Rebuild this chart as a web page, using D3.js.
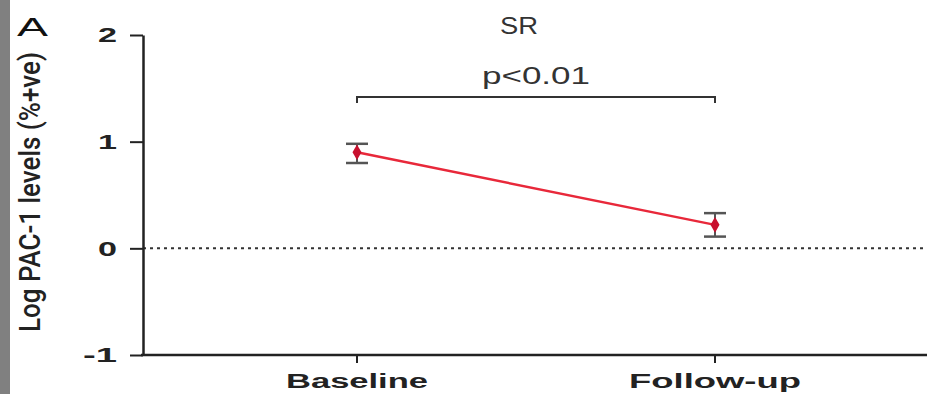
<!DOCTYPE html>
<html>
<head>
	<meta charset='utf-8' />
	<script src="https://d3js.org/d3.v7.min.js"></script>
	<style>
		body { margin: 0; background: white; }
		svg { display: block; }
	</style>
</head>
<body>
	<svg id="chart" width="927" height="394"></svg>
	<script>
		// data
		var groups = ["Baseline", "Follow-up"];
		var groupWidths = [142, 172];
		var means = [0.90, 0.22];
		var upper = [0.98, 0.33];
		var lower = [0.80, 0.11];
		var yTicks = [-1, 0, 1, 2];

		var svg = d3.select("#chart"),
			width = +svg.attr("width"),
			height = +svg.attr("height");

		// grey strip on the left edge
		svg.append("rect").attr("x", 0).attr("y", 0).attr("width", 10).attr("height", height).attr("fill", "#808080");

		var y = d3.scaleLinear().domain([-1, 2]).range([355, 35]);
		var x = d3.scalePoint().domain(groups).range([357, 715]);

		// dotted zero line
		svg.append("line")
			.attr("x1", 143).attr("x2", width)
			.attr("y1", y(0)).attr("y2", y(0))
			.attr("stroke", "#333").attr("stroke-width", 2)
			.attr("stroke-dasharray", "3,4");

		var yAxis = svg.append("g")
			.attr("transform", "translate(143,0)")
			.call(d3.axisLeft(y).tickValues(yTicks).tickSize(13).tickSizeOuter(0).tickFormat(d3.format("d")))
		yAxis.select(".domain").attr("stroke", "#222").attr("stroke-width", 2.5)
		yAxis.selectAll(".tick line").attr("stroke", "#222").attr("stroke-width", 2)
		yAxis.selectAll(".tick text")
			.attr("x", -26)
			.attr("fill", "#222")
			.style("font-family", "Liberation Sans, Arial, sans-serif")
			.style("font-weight", "bold")
			.style("font-size", "21px")
			.attr("textLength", d => d < 0 ? 34 : 19)
			.attr("lengthAdjust", "spacingAndGlyphs")
			.text(d => d < 0 ? "-" + Math.abs(d) : d)

		var xAxis = svg.append("g")
			.attr("transform", `translate(0,${y(-1)})`)
		xAxis.append("line")
			.attr("x1", 141).attr("x2", width)
			.attr("stroke", "#222").attr("stroke-width", 2.5)
		xAxis.selectAll(".xt").data(groups).enter().append("line")
			.attr("class", "xt")
			.attr("x1", d => x(d)).attr("x2", d => x(d))
			.attr("y1", 0).attr("y2", 8)
			.attr("stroke", "#222").attr("stroke-width", 2)
		xAxis.selectAll(".xl").data(groups).enter().append("text")
			.attr("class", "xl")
			.attr("x", d => x(d))
			.attr("y", 33)
			.attr("text-anchor", "middle")
			.attr("fill", "#222")
			.style("font-family", "Liberation Sans, Arial, sans-serif")
			.style("font-weight", "bold")
			.style("font-size", "20px")
			.attr("textLength", (d, i) => groupWidths[i])
			.attr("lengthAdjust", "spacingAndGlyphs")
			.text(d => d)

		// connecting line
		var line = d3.line().x((d, i) => x(groups[i])).y(d => y(d));
		svg.append("path")
			.datum(means)
			.attr("d", line)
			.attr("fill", "none")
			.attr("stroke", "#e8283a")
			.attr("stroke-width", 2.5)

		// error bars
		var err = svg.selectAll(".err").data(groups).enter().append("g").attr("class", "err")
		err.append("line")
			.attr("x1", d => x(d)).attr("x2", d => x(d))
			.attr("y1", (d, i) => y(upper[i])).attr("y2", (d, i) => y(lower[i]))
			.attr("stroke", "#555").attr("stroke-width", 2)
		err.append("line")
			.attr("x1", d => x(d) - 11).attr("x2", d => x(d) + 11)
			.attr("y1", (d, i) => y(upper[i])).attr("y2", (d, i) => y(upper[i]))
			.attr("stroke", "#555").attr("stroke-width", 2.5)
		err.append("line")
			.attr("x1", d => x(d) - 11).attr("x2", d => x(d) + 11)
			.attr("y1", (d, i) => y(lower[i])).attr("y2", (d, i) => y(lower[i]))
			.attr("stroke", "#555").attr("stroke-width", 2.5)

		// markers
		svg.selectAll(".pt").data(means).enter().append("path")
			.attr("class", "pt")
			.attr("transform", (d, i) => `translate(${x(groups[i])},${y(d)})`)
			.attr("d", d3.symbol().type(d3.symbolDiamond).size(70))
			.attr("fill", "#c8102e")

		// significance bracket
		var by = 97;
		svg.append("path")
			.attr("d", `M${x(groups[0])},${by + 6}V${by}H${x(groups[1])}V${by + 6}`)
			.attr("fill", "none")
			.attr("stroke", "#333")
			.attr("stroke-width", 2)
		svg.append("text")
			.attr("x", 536)
			.attr("y", 84)
			.attr("text-anchor", "middle")
			.attr("fill", "#333")
			.style("font-family", "Liberation Sans, Arial, sans-serif")
			.style("font-size", "24px")
			.attr("textLength", 108)
			.attr("lengthAdjust", "spacingAndGlyphs")
			.text("p<0.01")

		// title
		svg.append("text")
			.attr("x", 519).attr("y", 34)
			.attr("text-anchor", "middle")
			.attr("fill", "#333")
			.style("font-family", "Liberation Sans, Arial, sans-serif")
			.style("font-size", "23px")
			.attr("textLength", 38)
			.attr("lengthAdjust", "spacingAndGlyphs")
			.text("SR")

		// panel letter
		svg.append("text")
			.attr("x", 17).attr("y", 36)
			.attr("fill", "#111")
			.style("font-family", "Liberation Sans, Arial, sans-serif")
			.style("font-size", "25px")
			.attr("textLength", 31)
			.attr("lengthAdjust", "spacingAndGlyphs")
			.text("A")

		// y label
		svg.append("text")
			.attr("transform", "translate(40,192) rotate(-90)")
			.attr("text-anchor", "middle")
			.attr("fill", "#222")
			.style("font-family", "Roboto, Liberation Sans, sans-serif")
			.style("font-weight", "500")
			.style("font-size", "30px")
			.attr("textLength", 280)
			.attr("lengthAdjust", "spacingAndGlyphs")
			.text("Log PAC-1 levels (%+ve)")
	</script>
</body>
</html>
